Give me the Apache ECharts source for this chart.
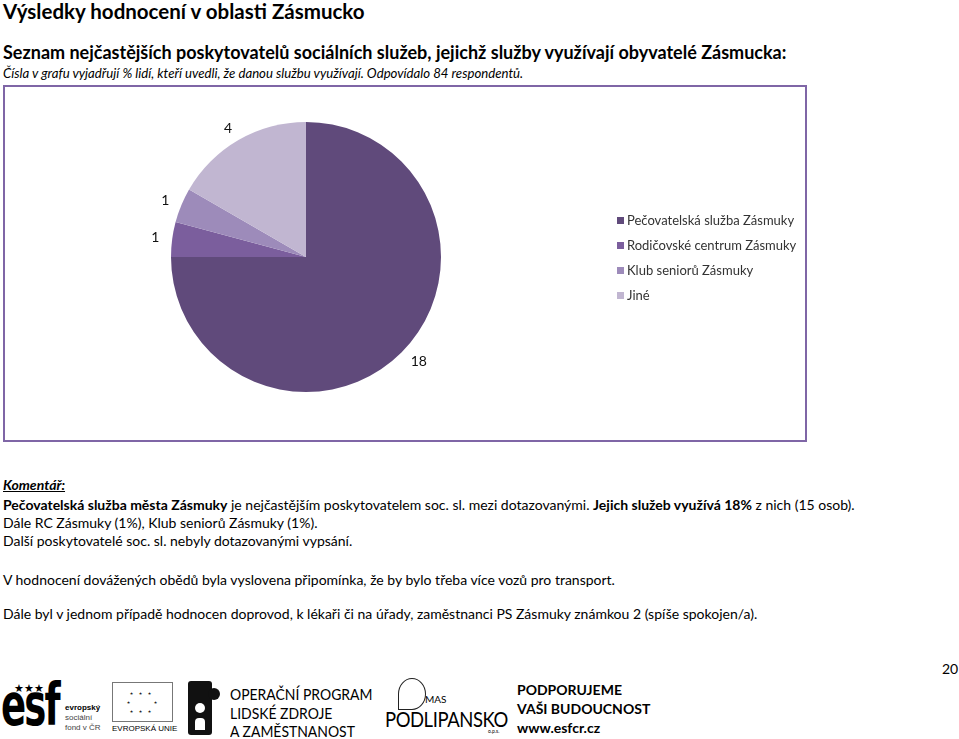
<!DOCTYPE html>
<html lang="cs">
<head>
<meta charset="utf-8">
<script src="https://cdn.jsdelivr.net/npm/echarts@6/dist/echarts.min.js"></script>
<style>
  html, body { margin: 0; padding: 0; background: #fff; }
  body { width: 959px; height: 739px; position: relative; overflow: hidden; font-family: Lato, "Open Sans", sans-serif; color: #000; }
  .t { position: absolute; left: 3px; white-space: nowrap; line-height: 1; }
  #chartBox { position: absolute; left: 3px; top: 85px; width: 800px; height: 353px; border: 2px solid #7f66a6; }
  #chart { width: 800px; height: 353px; }
  .foot { position: absolute; white-space: nowrap; line-height: 1; }
</style>
</head>
<body>
<div class="t" style="top:1px;font-size:20.5px;font-weight:700;">Výsledky hodnocení v oblasti Zásmucko</div>
<div class="t" style="top:43px;font-size:18px;font-weight:700;">Seznam nejčastějších poskytovatelů sociálních služeb, jejichž služby využívají obyvatelé Zásmucka:</div>
<div class="t" style="top:67px;font-size:13.2px;font-style:italic;">Čísla v grafu vyjadřují % lidí, kteří uvedli, že danou službu využívají. Odpovídalo 84 respondentů.</div>

<div id="chartBox"><div id="chart"></div></div>

<div class="t" style="top:478px;font-size:14px;font-weight:700;font-style:italic;text-decoration:underline;">Komentář:</div>
<div class="t" style="top:498px;font-size:14px;"><b>Pečovatelská služba města Zásmuky</b> je nejčastějším poskytovatelem soc. sl. mezi dotazovanými. <b>Jejich služeb využívá 18%</b> z nich (15 osob).</div>
<div class="t" style="top:516px;font-size:14px;">Dále RC Zásmuky (1%), Klub seniorů Zásmuky (1%).</div>
<div class="t" style="top:534px;font-size:14px;">Další poskytovatelé soc. sl. nebyly dotazovanými vypsání.</div>
<div class="t" style="top:573px;font-size:14px;">V hodnocení dovážených obědů byla vyslovena připomínka, že by bylo třeba více vozů pro transport.</div>
<div class="t" style="top:607px;font-size:14px;">Dále byl v jednom případě hodnocen doprovod, k lékaři či na úřady, zaměstnanci PS Zásmuky známkou 2 (spíše spokojen/a).</div>

<div class="foot" style="left:942px;top:662px;font-size:14px;">20</div>

<!-- footer logos (approximation) -->
<div class="foot" style="left:1px;top:676px;font-size:58px;font-weight:900;letter-spacing:-3px;font-family:'DejaVu Sans';transform:scaleX(0.64);transform-origin:0 0;">esf</div>
<div class="foot" style="left:14px;top:682px;font-size:11px;color:#000;">★★★</div>
<div class="foot" style="left:65px;top:703px;font-size:8px;line-height:10px;font-family:'Liberation Sans';"><b>evropský</b><br><span style="color:#444">sociální<br>fond v ČR</span></div>
<div class="foot" style="left:112px;top:682px;width:59px;height:38px;border:1px solid #777;"></div>
<div class="foot" style="left:126px;top:689px;font-size:8px;letter-spacing:1px;color:#222;line-height:9px;">&nbsp;⋆ ⋆ ⋆<br>⋆&nbsp;&nbsp;&nbsp;&nbsp;&nbsp;&nbsp;&nbsp;⋆<br>&nbsp;⋆ ⋆ ⋆</div>
<div class="foot" style="left:112px;top:725px;font-size:8px;font-family:'Liberation Sans';">EVROPSKÁ UNIE</div>
<div class="foot" style="left:188px;top:681px;width:24px;height:54px;background:#111;border-radius:3px;"></div>
<div class="foot" style="left:208px;top:688px;width:12px;height:12px;background:#111;border-radius:50%;"></div>
<div class="foot" style="left:195px;top:703px;width:10px;height:10px;background:#fff;border-radius:50%;"></div>
<div class="foot" style="left:195px;top:718px;width:10px;height:12px;background:#fff;border-radius:4px 4px 0 0;"></div>
<div class="foot" style="left:230px;top:685px;font-size:15.5px;line-height:18.5px;transform:scaleX(0.9);transform-origin:0 0;">OPERAČNÍ PROGRAM<br>LIDSKÉ ZDROJE<br>A ZAMĚSTNANOST</div>
<div class="foot" style="left:398px;top:678px;width:26px;height:30px;border:1.5px solid #222;border-radius:50% 50% 50% 0;"></div>
<div class="foot" style="left:425px;top:694px;font-size:10px;">MAS</div>
<div class="foot" style="left:385px;top:708px;font-size:21px;letter-spacing:-0.5px;transform:scaleX(0.88);transform-origin:0 0;">PODLIPANSKO</div>
<div class="foot" style="left:488px;top:729px;font-size:5px;">o.p.s.</div>
<div class="foot" style="left:517px;top:680px;font-size:14px;font-weight:700;line-height:19px;">PODPORUJEME<br>VAŠI BUDOUCNOST<br>www.esfcr.cz</div>

<script>
// ---- data ----
var categories = ['Pečovatelská služba Zásmuky', 'Rodičovské centrum Zásmuky', 'Klub seniorů Zásmuky', 'Jiné'];
var values = [18, 1, 1, 4];
var sliceColors = ['#604a7b', '#7b5e9d', '#9d8bba', '#c1b6d1'];

var chart = echarts.init(document.getElementById('chart'), null, { renderer: 'canvas' });
chart.setOption({
  animation: false,
  color: sliceColors,
  legend: {
    orient: 'vertical',
    left: 607,
    top: 121,
    icon: 'rect',
    itemWidth: 7,
    itemHeight: 7,
    itemGap: 10,
    textStyle: { fontFamily: 'Lato', fontSize: 13, color: '#333', lineHeight: 15, padding: [0, 0, 0, -2] },
    data: categories
  },
  series: [{
    type: 'pie',
    center: [301, 170],
    radius: 135,
    startAngle: 90,
    clockwise: true,
    avoidLabelOverlap: false,
    label: {
      show: true,
      position: 'outside',
      distanceToLabelLine: 0,
      fontFamily: 'Lato',
      fontSize: 14,
      color: '#111',
      formatter: '{c}'
    },
    labelLine: { show: false, length: 13, length2: 0 },
    emphasis: { disabled: true },
    data: categories.map(function (c, i) { return { name: c, value: values[i] }; })
  }]
});
</script>
</body>
</html>
